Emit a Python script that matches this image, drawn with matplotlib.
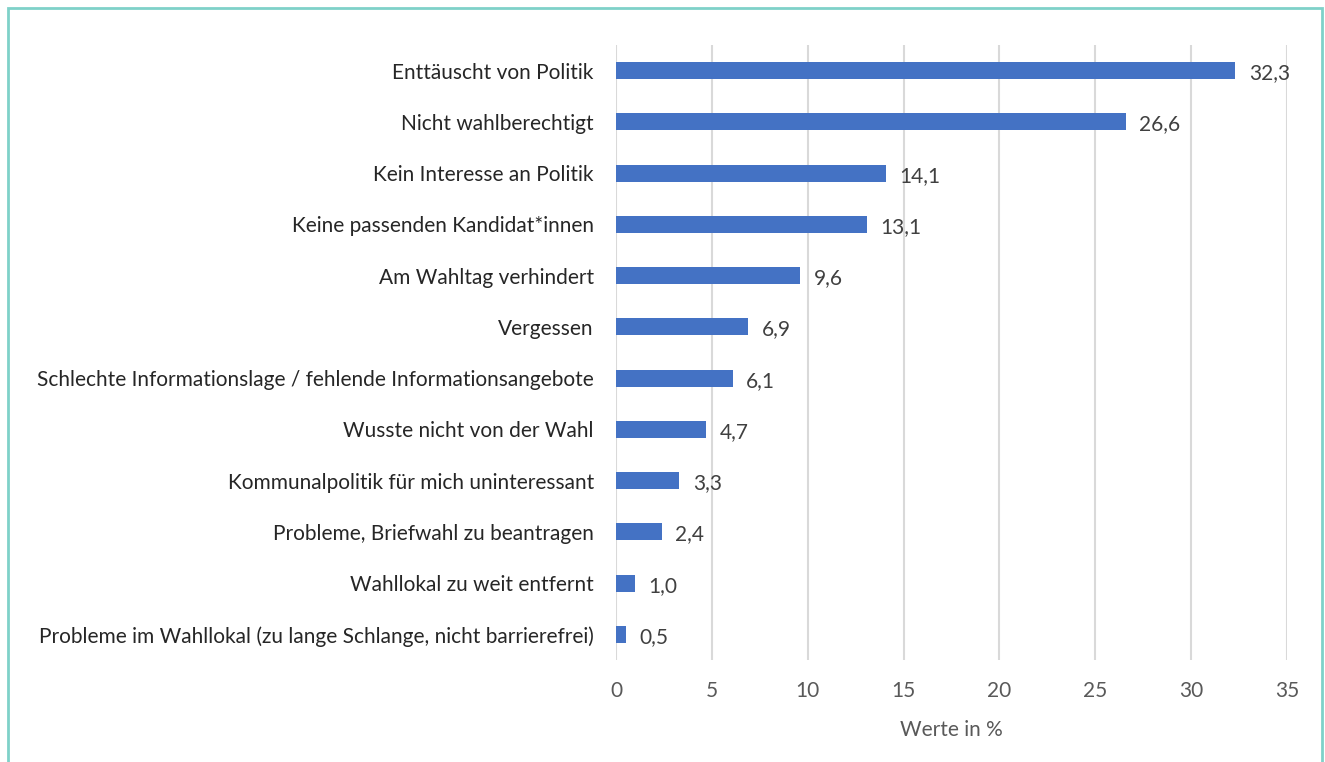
import matplotlib
matplotlib.use("Agg")
import matplotlib.pyplot as plt
from matplotlib.patches import Rectangle

categories = [
    "Enttäuscht von Politik",
    "Nicht wahlberechtigt",
    "Kein Interesse an Politik",
    "Keine passenden Kandidat*innen",
    "Am Wahltag verhindert",
    "Vergessen",
    "Schlechte Informationslage / fehlende Informationsangebote",
    "Wusste nicht von der Wahl",
    "Kommunalpolitik für mich uninteressant",
    "Probleme, Briefwahl zu beantragen",
    "Wahllokal zu weit entfernt",
    "Probleme im Wahllokal (zu lange Schlange, nicht barrierefrei)",
]
values = [32.3, 26.6, 14.1, 13.1, 9.6, 6.9, 6.1, 4.7, 3.3, 2.4, 1.0, 0.5]
xticks = [0, 5, 10, 15, 20, 25, 30, 35]

plt.rcParams["font.family"] = ["Lato", "DejaVu Sans"]

fig = plt.figure(figsize=(13.25, 7.62), dpi=100)
ax = fig.add_axes([616 / 1325, 1 - 660 / 762, (1287 - 616) / 1325, (660 - 45) / 762])

pos = list(range(len(categories)))
ax.barh(pos, values, height=0.33, color="#4472C4", zorder=3)
# Datenbeschriftungen rechts neben den Balken
for p, v in zip(pos, values):
    ax.text(v + 0.7, p + 0.05, f"{v:.1f}".replace(".", ","), va="center", ha="left",
            fontsize=15, color="#404040")

ax.set_ylim(len(categories) - 0.5, -0.5)
ax.set_xlim(0, 35)
ax.set_yticks(pos)
ax.set_yticklabels(categories, fontsize=15, color="#262626")
ax.set_xticks(xticks)
ax.set_xticklabels([str(t) for t in xticks], fontsize=15, color="#595959")
ax.tick_params(axis="both", length=0)
ax.tick_params(axis="y", pad=16)
ax.tick_params(axis="x", pad=15)
ax.grid(axis="x", color="#D9D9D9", linewidth=1.5, zorder=0)
for s in ax.spines.values():
    s.set_visible(False)
ax.set_xlabel("Werte in %", fontsize=15, color="#595959", labelpad=14)

fig.patches.append(Rectangle((8 / 1325, -0.05), (1322 - 8) / 1325, 1 - 8 / 762 + 0.05,
                             transform=fig.transFigure, fill=False,
                             edgecolor="#7FD1C9", linewidth=2))

fig.savefig("out.png", dpi=100)
